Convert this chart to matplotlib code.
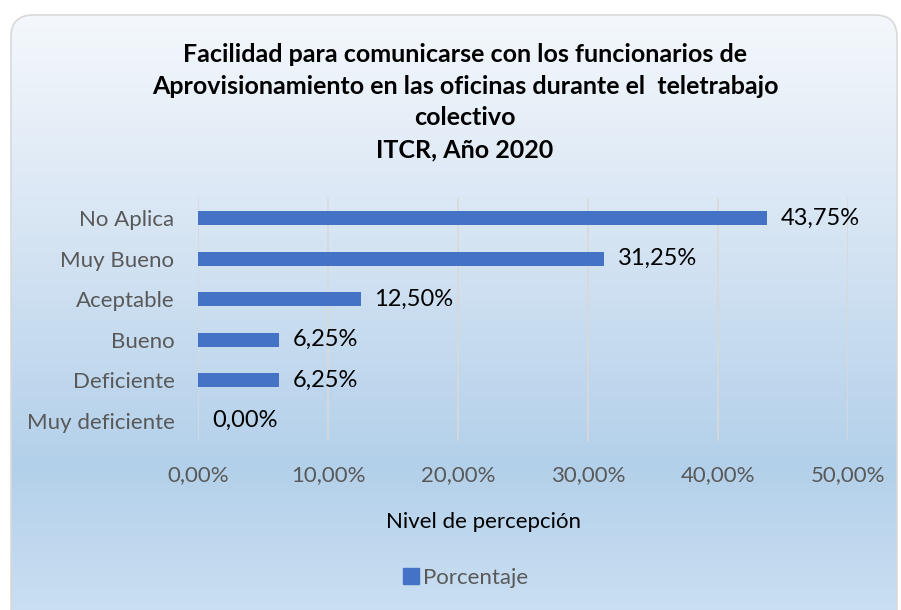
import numpy as np
import matplotlib.pyplot as plt
from matplotlib.patches import FancyBboxPatch
from matplotlib.colors import LinearSegmentedColormap

# data
categorias = ['Muy deficiente', 'Deficiente', 'Bueno', 'Aceptable', 'Muy Bueno', 'No Aplica']
porcentajes = [0.0, 6.25, 6.25, 12.50, 31.25, 43.75]
xticks = [0, 10, 20, 30, 40, 50]

titulo = ('Facilidad para comunicarse con los funcionarios de\n'
          'Aprovisionamiento en las oficinas durante el  teletrabajo\n'
          'colectivo\n'
          'ITCR, Año 2020')

plt.rcParams['font.family'] = ['Lato', 'DejaVu Sans']

W, H = 901, 610
fig = plt.figure(figsize=(W / 100, H / 100), dpi=100)
fig.patch.set_facecolor('white')

# gradient background inside a rounded frame
bg = fig.add_axes([0, 0, 1, 1])
bg.set_xlim(0, W)
bg.set_ylim(H, 0)
bg.axis('off')
cmap = LinearSegmentedColormap.from_list('fondo', [
    (0.0, '#F4F8FC'), (0.30, '#DCE8F5'), (0.75, '#B3D0EA'), (1.0, '#CADFF2')])
grad = np.linspace(0, 1, 256).reshape(-1, 1)
im = bg.imshow(grad, cmap=cmap, aspect='auto', extent=(11, 897, 615, 15))
frame = FancyBboxPatch((11, 15), 886, 620, boxstyle='round,pad=0,rounding_size=22',
                       facecolor='none', edgecolor='#D9D9D9', lw=1.2)
bg.add_patch(frame)
im.set_clip_path(frame)

ax = fig.add_axes([198 / W, 1 - 441 / H, 650 / W, 243 / H])
ax.set_facecolor('none')
y = np.arange(len(categorias))
ax.barh(y, porcentajes, height=0.35, color='#4472C4', zorder=3)
ax.set_xlim(0, 50)
ax.set_ylim(-0.5, len(categorias) - 0.5)
ax.set_yticks(y)
ax.set_yticklabels(categorias, fontsize=16, color='#595959')
ax.set_xticks(xticks)
ax.set_xticklabels([f'{v:.2f}%'.replace('.', ',') for v in xticks],
                   fontsize=16, color='#595959')
ax.tick_params(length=0)
ax.tick_params(axis='y', pad=17)
ax.tick_params(axis='x', pad=17)
ax.grid(axis='x', color='#D9D9D9', lw=1.2, zorder=0)
for s in ax.spines.values():
    s.set_visible(False)

for yi, v in zip(y, porcentajes):
    ax.annotate(f'{v:.2f}%'.replace('.', ','), (v, yi), xytext=(10, 0),
                textcoords='offset points', va='center', ha='left',
                fontsize=17, color='black')

ax.set_xlabel('Nivel de percepción', fontsize=16, color='black')
ax.xaxis.set_label_coords((484 - 198) / 650, -(522 - 441) / 243)
ax.xaxis.label.set_va('center')

fig.text(465 / W, 1 - 102 / H, titulo, ha='center', va='center', fontsize=18,
         fontweight='bold', linespacing=1.47)

fig.legend([plt.Rectangle((0, 0), 1, 1, color='#4472C4')], ['Porcentaje'],
           loc='center', bbox_to_anchor=(466 / W, 1 - 578 / H), frameon=False,
           handlelength=0.7, handleheight=0.7, handletextpad=0.2,
           prop={'size': 16}, labelcolor='#595959')

fig.savefig('out.png', dpi=100)
